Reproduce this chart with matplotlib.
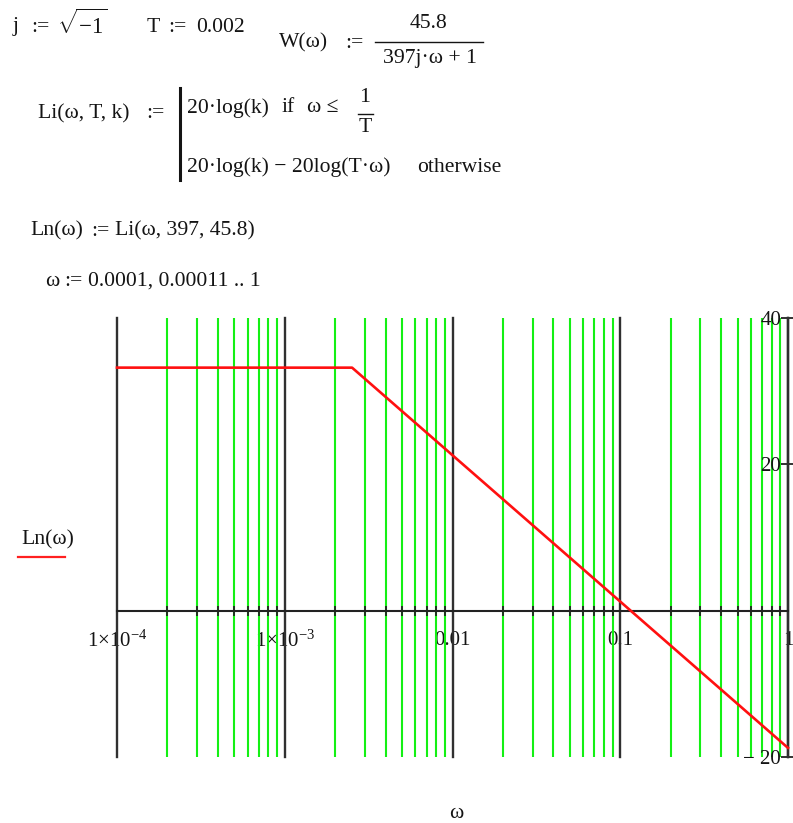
import numpy as np
import matplotlib
matplotlib.use("Agg")
import matplotlib.pyplot as plt
from matplotlib.ticker import LogLocator, FixedLocator, NullFormatter
from matplotlib.transforms import Affine2D

plt.rcParams["font.family"] = ["Liberation Serif", "DejaVu Serif"]
plt.rcParams["mathtext.fontset"] = "custom"
plt.rcParams["mathtext.rm"] = "Liberation Serif"
plt.rcParams["mathtext.it"] = "Liberation Serif:italic"

# Worksheet constants
T_shown = 0.002
time_const = 397.0      # T passed to Li
gain = 45.8             # k passed to Li
w_start, w_second, w_end = 0.0001, 0.00011, 1.0

x_tick_values = [1e-4, 1e-3, 1e-2, 1e-1, 1.0]
x_tick_labels = [r"$1{\times}10^{-4}$", r"$1{\times}10^{-3}$", "0.01", "0.1", "1"]
y_tick_values = [-20, 20, 40]
y_tick_labels = ["\u2212 20", "20", "40"]
y_limits = (-20, 40)


def Li(w, T, k):
    """Asymptotic log-magnitude of k / (jTw + 1)."""
    return np.where(w <= 1.0 / T,
                    20 * np.log10(k),
                    20 * np.log10(k) - 20 * np.log10(T * w))


w = np.arange(w_start, w_end + 1e-12, w_second - w_start)
Ln = Li(w, time_const, gain)

W, H = 793, 823
fig = plt.figure(figsize=(W / 100, H / 100), dpi=100)
px = Affine2D().scale(1 / W, -1 / H).translate(0, 1) + fig.transFigure

FS = 15.6
ink = "#141414"


def put(x, y, s, **kw):
    kw.setdefault("fontsize", FS)
    kw.setdefault("color", ink)
    kw.setdefault("va", "center")
    fig.text(x, y, s, transform=px, **kw)


def hline(x0, x1, y, lw=1.0, color=ink):
    fig.add_artist(plt.Line2D([x0, x1], [y, y], transform=px, color=color, lw=lw))


# Definitions above the plot
put(13, 27, "j")
put(31, 27, ":=")
put(57, 24, r"$\sqrt{-1}$", fontsize=16.5)
put(147, 27, "T")
put(168, 27, ":=")
put(196, 27, "0.002")
put(279, 43, "W(\u03c9)")
put(345, 43, ":=")
put(429, 24, "45.8", ha="center")
hline(375, 483, 42)
put(430, 59, "397j\u00b7\u03c9 + 1", ha="center")

put(38, 114, "Li(\u03c9, T, k)")
put(146, 114, ":=")
fig.add_artist(plt.Line2D([180, 180], [88, 180], transform=px, color=ink, lw=2.2))
put(187, 108, "20\u00b7log(k)")
put(282, 108, "if")
put(307, 108, "\u03c9 \u2264")
put(365, 98, "1", ha="center")
hline(358, 373, 114)
put(365, 127, "T", ha="center")
put(187, 167, "20\u00b7log(k) \u2212 20log(T\u00b7\u03c9)")
put(417, 167, "otherwise")

put(30, 231, "Ln(\u03c9)")
put(91, 231, ":=")
put(115, 231, "Li(\u03c9, 397, 45.8)")
put(45, 281, "\u03c9")
put(64, 281, ":=")
put(88, 281, "0.0001, 0.00011 .. 1")

# Axis captions
put(21, 540, "Ln(\u03c9)")
hline(18, 65, 557, lw=1.6, color="#ff2020")
put(449, 823, "\u03c9", va="bottom")

# Plot region
left, right, top, bottom = 117, 788, 318, 757
ax = fig.add_axes([left / W, 1 - bottom / H, (right - left) / W, (bottom - top) / H])
ax.set_xscale("log")
ax.set_xlim(w_start, w_end)
ax.set_ylim(*y_limits)
ax.patch.set_visible(False)

ax.xaxis.set_major_locator(FixedLocator(x_tick_values))
ax.xaxis.set_minor_locator(LogLocator(base=10, subs=np.arange(2, 10), numticks=20))
ax.xaxis.set_minor_formatter(NullFormatter())
ax.set_xticklabels(x_tick_labels)

# green lines at every minor decade step, dark lines at each decade
ax.grid(True, axis="x", which="minor", color="#14f014", lw=1.5)
for xv in x_tick_values:
    ax.axvline(xv, color="#303030", lw=1.7, clip_on=False, zorder=1)

ax.plot(w, Ln, color="#ff1010", lw=1.9, zorder=3, clip_on=False)

for s in ("top", "right"):
    ax.spines[s].set_visible(False)
ax.spines["bottom"].set_position(("data", 0))
ax.spines["bottom"].set_color("#222222")
ax.spines["bottom"].set_linewidth(1.5)
ax.spines["left"].set_position(("axes", 1.0))
ax.spines["left"].set_color("#303030")
ax.spines["left"].set_linewidth(1.7)

ax.tick_params(axis="x", which="both", direction="inout", length=7, width=1.3,
               color="#222222", pad=11, labelsize=15, labelcolor=ink)
ax.set_yticks(y_tick_values)
ax.set_yticklabels(y_tick_labels)
ax.tick_params(axis="y", direction="inout", length=10, width=1.3, color="#222222",
               pad=0, labelsize=15, labelcolor=ink)
ax.set_axisbelow(True)

fig.savefig("out.png", dpi=100)
